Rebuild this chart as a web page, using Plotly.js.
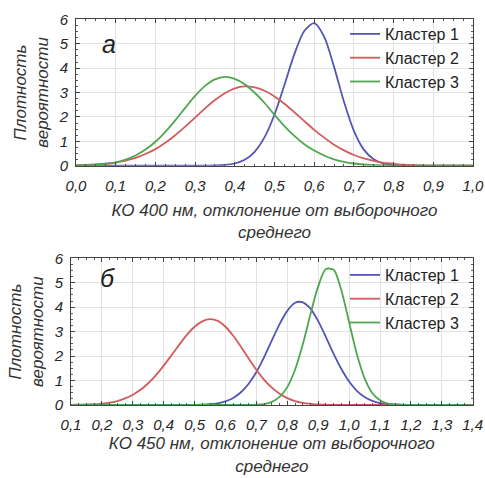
<!DOCTYPE html>
<html>
<head>
<meta charset="utf-8">
<script src="https://cdn.plot.ly/plotly-3.0.1.min.js"></script>
<style>html,body{margin:0;padding:0;background:#fff;}</style>
</head>
<body>
<div id="chart" style="width:485px;height:478px;"></div>
<script>
// ---- Panel "а": КО 400 нм ----
const x400 = [0,0.025,0.05,0.075,0.1,0.125,0.15,0.175,0.2,0.225,0.25,0.275,0.3,0.325,0.35,0.375,0.4,0.425,0.45,0.475,0.5,0.525,0.55,0.575,0.6,0.625,0.65,0.675,0.7,0.725,0.75,0.775,0.8,0.825,0.85,0.875,0.9,0.925,0.95,0.975,1.0];
const cl1_400 = [0,0,0,0,0,0,0,0,0,0,0,0,0,0,0.01,0.03,0.09,0.24,0.57,1.17,2.10,3.31,4.57,5.52,5.84,5.29,4.05,2.62,1.43,0.66,0.26,0.08,0.02,0.005,0,0,0,0,0,0,0];
const cl2_400 = [0.01,0.03,0.05,0.08,0.13,0.21,0.32,0.48,0.68,0.94,1.25,1.60,1.97,2.35,2.69,2.97,3.17,3.25,3.21,3.07,2.84,2.54,2.19,1.83,1.47,1.15,0.86,0.63,0.44,0.30,0.20,0.12,0.08,0.04,0.02,0.01,0.005,0,0,0,0];
const cl3_400 = [0.01,0.02,0.04,0.08,0.14,0.25,0.42,0.66,0.98,1.39,1.86,2.37,2.86,3.27,3.54,3.64,3.56,3.34,2.99,2.57,2.08,1.62,1.22,0.88,0.62,0.42,0.26,0.16,0.09,0.05,0.03,0.01,0.005,0,0,0,0,0,0,0,0];

// ---- Panel "б": КО 450 нм ----
const x450 = [0.1,0.125,0.15,0.175,0.2,0.225,0.25,0.275,0.3,0.325,0.35,0.375,0.4,0.425,0.45,0.475,0.5,0.525,0.55,0.575,0.6,0.625,0.65,0.675,0.7,0.725,0.75,0.775,0.8,0.825,0.85,0.875,0.9,0.925,0.95,0.975,1.0,1.025,1.05,1.075,1.1,1.125,1.15,1.175,1.2,1.225,1.25,1.275,1.3,1.325,1.35,1.375,1.4];
const cl1_450 = [0,0,0,0,0,0,0,0,0,0,0,0,0,0,0,0,0.005,0.01,0.03,0.07,0.15,0.29,0.52,0.87,1.35,1.96,2.64,3.31,3.85,4.18,4.20,3.94,3.43,2.78,2.09,1.47,0.96,0.58,0.33,0.17,0.08,0.04,0.02,0.005,0,0,0,0,0,0,0,0,0];
const cl2_450 = [0,0.01,0.02,0.03,0.06,0.10,0.16,0.27,0.42,0.62,0.89,1.22,1.61,2.03,2.46,2.87,3.20,3.42,3.51,3.44,3.20,2.83,2.38,1.90,1.44,1.03,0.71,0.46,0.28,0.16,0.09,0.05,0.02,0.01,0,0,0,0,0,0,0,0,0,0,0,0,0,0,0,0,0,0,0];
const cl3_450 = [0,0,0,0,0,0,0,0,0,0,0,0,0,0,0,0,0,0,0,0,0,0,0,0,0.01,0.04,0.13,0.33,0.73,1.44,2.47,3.71,4.85,5.56,5.53,4.68,3.39,2.09,1.10,0.49,0.19,0.06,0.02,0.005,0,0,0,0,0,0,0,0,0];

const seriesNames = ['Кластер 1','Кластер 2','Кластер 3'];
const yTitle = 'Плотность<br>вероятности';
const xTitle400 = 'КО 400 нм, отклонение от выборочного<br>среднего';
const xTitle450 = 'КО 450 нм, отклонение от выборочного<br>среднего';
const panelLabels = ['а','б'];

const colors = ['#5555b5','#d35b5b','#4fa64f'];
const FONT = 'Liberation Sans, Arial, sans-serif';

function tr(x, y, i, xa, ya, leg) {
  return {x: x, y: y, type: 'scatter', mode: 'lines', name: seriesNames[i],
    line: {color: colors[i], width: 1.8, shape: 'spline', smoothing: 0.8},
    xaxis: xa, yaxis: ya, legend: leg, hoverinfo: 'skip'};
}
const data = [
  tr(x400, cl1_400, 0, 'x', 'y', 'legend'),
  tr(x400, cl2_400, 1, 'x', 'y', 'legend'),
  tr(x400, cl3_400, 2, 'x', 'y', 'legend'),
  tr(x450, cl1_450, 0, 'x2', 'y2', 'legend2'),
  tr(x450, cl2_450, 1, 'x2', 'y2', 'legend2'),
  tr(x450, cl3_450, 2, 'x2', 'y2', 'legend2')
];

const tickFont = {family: FONT, size: 15, color: '#262626', style: 'italic'};
const titleFont = {family: FONT, size: 17, color: '#333', style: 'italic'};
const ytitleFont = {family: FONT, size: 17, color: '#333', style: 'italic'};

function xax(domain, anchor, range, title, standoff, extra) {
  return Object.assign({
    domain: domain, anchor: anchor, range: range, dtick: 0.1, tickformat: '.1f',
    showline: true, linecolor: '#444', linewidth: 1, mirror: 'allticks',
    showgrid: true, gridcolor: '#e2e2e2', gridwidth: 1, zeroline: false,
    ticks: 'inside', ticklen: 4, tickcolor: '#444', tickfont: tickFont,
    ticklabelstandoff: 6,
    minor: {ticks: 'inside', ticklen: 2, dtick: 0.025, tickcolor: '#555', showgrid: false},
    title: {text: title, font: titleFont, standoff: standoff}
  }, extra || {});
}
function yax(domain, anchor) {
  return {
    domain: domain, anchor: anchor, range: [0, 6], dtick: 1,
    showline: true, linecolor: '#444', linewidth: 1, mirror: 'allticks',
    showgrid: true, gridcolor: '#e2e2e2', gridwidth: 1, zeroline: false,
    ticks: 'inside', ticklen: 4, tickcolor: '#444', tickfont: tickFont,
    ticklabelstandoff: 4,
    minor: {ticks: 'inside', ticklen: 2, dtick: 0.25, tickcolor: '#555', showgrid: false},
    title: {text: yTitle, font: ytitleFont, standoff: 5}
  };
}

const legendBase = {xanchor: 'left', yanchor: 'top', bgcolor: 'rgba(0,0,0,0)',
  borderwidth: 0, font: {family: FONT, size: 16, color: '#222'}, tracegroupgap: 0};

const layout = {
  width: 485, height: 478,
  margin: {l: 0, r: 0, t: 0, b: 0},
  paper_bgcolor: '#fff', plot_bgcolor: '#fff',
  separators: ', ',
  showlegend: true,
  xaxis: xax([76/485, 473/485], 'y', [0, 1], xTitle400, 11),
  yaxis: yax([1 - 165.7/478, 1 - 19.3/478], 'x'),
  xaxis2: xax([71/485, 472.7/485], 'y2', [0.1, 1.4], xTitle450, 5, {tick0: 0.1}),
  yaxis2: yax([1 - 405/478, 1 - 258.3/478], 'x2'),
  legend: Object.assign({x: 345/485, y: 1 - 17/478}, legendBase),
  legend2: Object.assign({x: 345/485, y: 1 - 258/478}, legendBase),
  annotations: [
    {text: panelLabels[0], xref: 'paper', yref: 'paper', x: 100/485, y: 1 - 28/478,
     showarrow: false, font: {family: FONT, size: 25, color: '#222', style: 'italic'}},
    {text: panelLabels[1], xref: 'paper', yref: 'paper', x: 98/485, y: 1 - 278/478,
     showarrow: false, font: {family: FONT, size: 25, color: '#222', style: 'italic'}}
  ]
};

Plotly.newPlot('chart', data, layout, {staticPlot: true, displayModeBar: false});
</script>
</body>
</html>
